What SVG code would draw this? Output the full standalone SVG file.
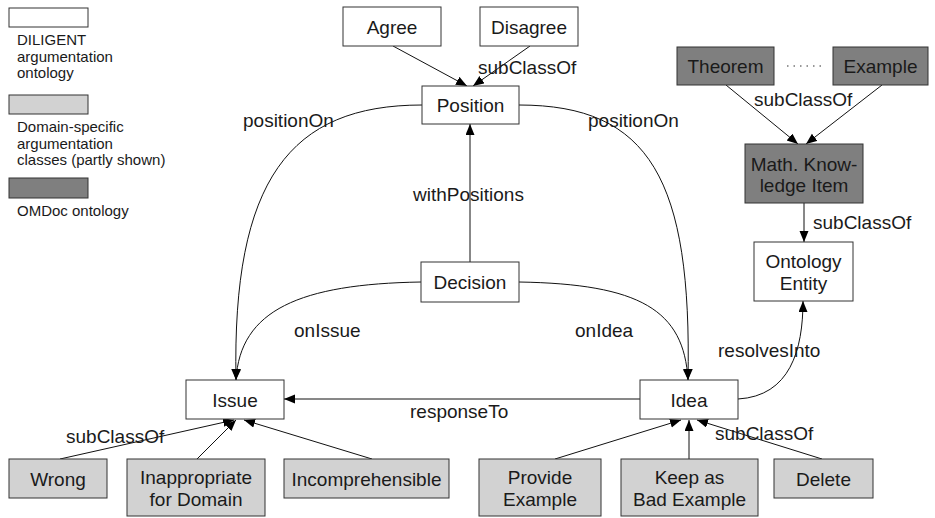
<svg xmlns="http://www.w3.org/2000/svg" width="935" height="518" viewBox="0 0 935 518">
<style>
text{font-family:"Liberation Sans",Arial,sans-serif;fill:#1a1a1a}
.n{font-size:19px;text-anchor:middle}
.l{font-size:19px}
.lg{font-size:15px}
.w{fill:#fff;stroke:#333;stroke-width:1}
.g{fill:#d2d2d2;stroke:#333;stroke-width:1}
.d{fill:#7f7f7f;stroke:#333;stroke-width:1}
.e{fill:none;stroke:#111;stroke-width:1}
</style>
<defs>
<marker id="a" markerUnits="userSpaceOnUse" markerWidth="12" markerHeight="10" refX="11" refY="4.5" orient="auto">
<path d="M0,0 L11,4.5 L0,9 z" fill="#000"/>
</marker>
</defs>
<rect width="935" height="518" fill="#fff"/>
<g id="legend">
<rect class="w" x="9" y="8" width="79" height="19"/>
<text class="lg" x="17" y="45">DILIGENT</text>
<text class="lg" x="17" y="61.5">argumentation</text>
<text class="lg" x="17" y="78">ontology</text>
<rect class="g" x="9" y="95" width="79" height="19"/>
<text class="lg" x="17" y="132">Domain-specific</text>
<text class="lg" x="17" y="148.5">argumentation</text>
<text class="lg" x="17" y="165">classes (partly shown)</text>
<rect class="d" x="9" y="178" width="79" height="20"/>
<text class="lg" x="17" y="216">OMDoc ontology</text>
</g>
<g id="connectors">
<line class="e" x1="393" y1="46" x2="467" y2="86" marker-end="url(#a)"/>
<line class="e" x1="530" y1="46" x2="473" y2="86" marker-end="url(#a)"/>
<text class="l" x="478" y="74">subClassOf</text>
<line class="e" x1="470" y1="262" x2="470" y2="124" marker-end="url(#a)"/>
<text class="l" x="413" y="201">withPositions</text>
<path class="e" d="M422,105 C290,105 232,180 236,380" marker-end="url(#a)"/>
<text class="l" x="243" y="127">positionOn</text>
<path class="e" d="M519,105 C650,105 692,180 688,380" marker-end="url(#a)"/>
<text class="l" x="588" y="127">positionOn</text>
<path class="e" d="M421,282 C300,284 240,310 236,380" marker-end="url(#a)"/>
<text class="l" x="294" y="337">onIssue</text>
<path class="e" d="M519,282 C640,284 684,310 688,380" marker-end="url(#a)"/>
<text class="l" x="575" y="337">onIdea</text>
<line class="e" x1="640" y1="399" x2="284" y2="399" marker-end="url(#a)"/>
<text class="l" x="410" y="418">responseTo</text>
<path class="e" d="M738,399 C790,396 803,350 803,301" marker-end="url(#a)"/>
<text class="l" x="718" y="357">resolvesInto</text>
<line class="e" x1="726" y1="85" x2="798" y2="144" marker-end="url(#a)"/>
<line class="e" x1="882" y1="85" x2="806" y2="144" marker-end="url(#a)"/>
<text class="l" x="754" y="106">subClassOf</text>
<line x1="787" y1="66" x2="822" y2="66" stroke="#333" stroke-width="1.2" stroke-dasharray="1.5 5"/>
<line class="e" x1="804" y1="203" x2="804" y2="242" marker-end="url(#a)"/>
<text class="l" x="813" y="229">subClassOf</text>
<line class="e" x1="60" y1="459" x2="234" y2="420" marker-end="url(#a)"/>
<line class="e" x1="197" y1="459" x2="236" y2="420" marker-end="url(#a)"/>
<line class="e" x1="372" y1="459" x2="244" y2="420" marker-end="url(#a)"/>
<text class="l" x="66" y="443">subClassOf</text>
<line class="e" x1="555" y1="459" x2="681" y2="420" marker-end="url(#a)"/>
<line class="e" x1="689" y1="459" x2="689" y2="420" marker-end="url(#a)"/>
<line class="e" x1="822" y1="459" x2="697" y2="420" marker-end="url(#a)"/>
<text class="l" x="715" y="440">subClassOf</text>
</g>
<g id="agree"><rect class="w" x="343" y="7" width="98" height="39"/><text class="n" x="392" y="33.5">Agree</text></g>
<g id="disagree"><rect class="w" x="480" y="7" width="98" height="39"/><text class="n" x="529" y="33.5">Disagree</text></g>
<g id="position"><rect class="w" x="422" y="86" width="97" height="38"/><text class="n" x="470.5" y="112">Position</text></g>
<g id="decision"><rect class="w" x="421" y="262" width="98" height="40"/><text class="n" x="470" y="289">Decision</text></g>
<g id="issue"><rect class="w" x="186" y="380" width="98" height="39"/><text class="n" x="235" y="406.5">Issue</text></g>
<g id="idea"><rect class="w" x="640" y="380" width="98" height="39"/><text class="n" x="689" y="406.5">Idea</text></g>
<g id="theorem"><rect class="d" x="677" y="47" width="97" height="38"/><text class="n" x="725.5" y="72.5">Theorem</text></g>
<g id="example"><rect class="d" x="833" y="47" width="95" height="38"/><text class="n" x="880.5" y="72.5">Example</text></g>
<g id="mki"><rect class="d" x="745" y="144" width="118" height="59"/><text class="n" x="804" y="170.5">Math. Know-</text><text class="n" x="804" y="192">ledge Item</text></g>
<g id="ontology"><rect class="w" x="754" y="242" width="99" height="59"/><text class="n" x="803.5" y="268">Ontology</text><text class="n" x="803.5" y="290">Entity</text></g>
<g id="wrong"><rect class="g" x="9" y="459" width="98" height="39"/><text class="n" x="58" y="485.5">Wrong</text></g>
<g id="inappropriate"><rect class="g" x="127" y="459" width="138" height="57"/><text class="n" x="196" y="484">Inappropriate</text><text class="n" x="196" y="506">for Domain</text></g>
<g id="incomprehensible"><rect class="g" x="284" y="459" width="165" height="39"/><text class="n" x="366.5" y="485.5">Incomprehensible</text></g>
<g id="provide"><rect class="g" x="479" y="459" width="122" height="57"/><text class="n" x="540" y="484">Provide</text><text class="n" x="540" y="506">Example</text></g>
<g id="keep"><rect class="g" x="621" y="459" width="137" height="57"/><text class="n" x="689.5" y="484">Keep as</text><text class="n" x="689.5" y="506">Bad Example</text></g>
<g id="delete"><rect class="g" x="774" y="459" width="99" height="39"/><text class="n" x="823.5" y="485.5">Delete</text></g>
</svg>
